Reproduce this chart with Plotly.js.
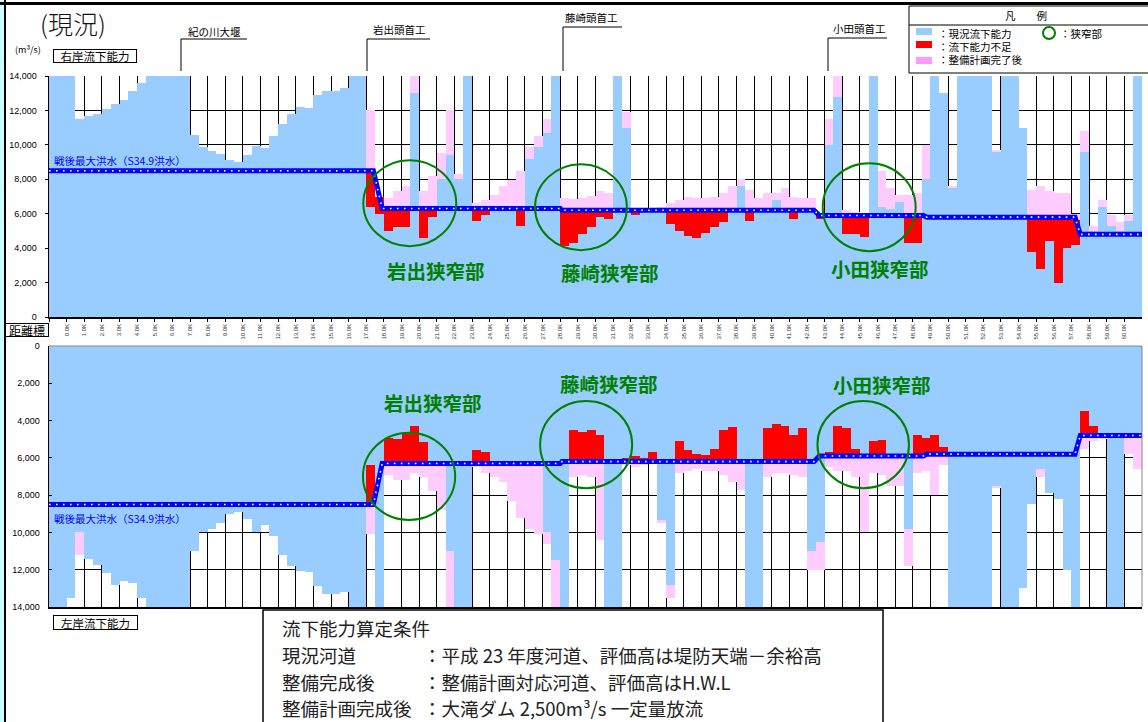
<!DOCTYPE html>
<html><head><meta charset="utf-8">
<script src="https://cdn.plot.ly/plotly-3.0.1.min.js"></script>
<style>html,body{margin:0;padding:0;background:#fff;overflow:hidden}#chart{width:1148px;height:722px}</style>
</head><body><div id="chart"></div>
<script>
// distance bins: 0.5 km each, starting at -1.0 km (values listed per 5 km)
const KM_START = -1.0, BIN = 0.5;

// right bank, current capacity (m3/s)
const R_CUR = [
 14000,14000,14000,11500,11650,11800,12100,12400,12600,13100,
 13600,14000,14000,14000,14000,14000,10600,9900,9650,9450,
 9100,9000,9400,9950,9800,10500,11200,11800,12200,12150,
 12900,13100,13100,13300,14000,14000,6400,6000,5000,5250,
 5250,13000,4600,5800,8000,9400,8000,14000,5600,5900,
 6300,6300,6300,5300,9200,9900,10700,14000,4100,4300,
 4850,5250,5800,5700,14000,11000,5900,6200,6100,6200,
 5400,5000,4700,4600,4900,5200,5500,6300,7600,5600,
 6300,6300,6800,6300,5700,6300,6300,5700,10000,12800,
 4850,4800,4650,14000,6400,6300,6700,4300,4300,8000,
 14000,13000,7500,14000,14000,14000,14000,9600,14000,14000,
 11000,3800,2800,4400,2000,4000,4200,9600,5000,6400,
 5300,5000,5600,14000];
// right bank, after plan completion
const R_POST = [
 0,0,0,0,0,0,0,0,0,0,
 0,0,0,0,0,0,0,0,0,0,
 0,0,0,0,0,0,0,0,0,0,
 0,0,0,0,0,0,12000,6500,6900,7300,
 7600,14000,7300,8200,9500,12000,8300,0,6600,6800,
 7100,7600,7950,8500,9900,10500,11500,0,6900,6850,
 6900,7050,7300,7200,0,11900,6300,6300,6300,6400,
 6600,6800,7000,6900,6900,7000,7200,7600,8000,7400,
 6900,7200,7200,7500,7000,6900,6900,6000,11500,14000,
 6200,6100,6000,0,8500,7500,7100,7100,7200,10000,
 0,0,7600,0,0,0,0,9700,0,0,
 0,7400,7600,7300,7200,7200,6000,10800,5300,6800,
 5900,5500,5900,0];
// left bank, current capacity
const L_CUR = [
 14000,14000,13500,10000,11420,11750,12150,12800,12600,12700,
 13500,14000,14000,14000,14000,14000,11000,9960,9830,9510,
 9000,8900,9300,10000,9600,10200,11200,11800,12050,12100,
 12900,13300,13300,13200,14000,14000,6400,14000,4950,5000,
 4700,4300,5150,6150,6300,11000,14000,14000,5600,5700,
 6300,6300,6300,6300,6300,6300,10000,11500,14000,4500,
 4600,4500,4800,14000,14000,6000,5900,6000,5700,9330,
 12800,5100,5600,5800,5850,5500,4500,4360,6200,14000,
 14000,4400,4200,4300,4780,4400,11000,10500,5700,4300,
 4400,5500,6000,5100,5040,5900,5900,9800,4800,4950,
 4800,5400,14000,14000,14000,14000,14000,7500,14000,14000,
 13000,8500,6600,7900,8200,12000,14000,3500,4300,4680,
 14000,14000,4800,4800];
// left bank, after plan completion
const L_POST = [
 0,0,0,11200,0,0,0,0,0,0,
 0,0,0,0,0,0,0,0,0,0,
 0,0,0,0,0,0,0,0,0,0,
 0,0,0,0,0,0,10100,0,6900,7200,
 7200,6830,7000,7800,8800,14000,0,0,6500,6800,
 7000,7300,8300,9200,9800,10100,10600,14000,0,7000,
 6900,7000,10400,0,0,6400,6500,6400,6300,9500,
 13500,6800,6700,6600,6700,6700,6900,7300,7700,0,
 0,7000,6800,6800,6900,7000,12000,12000,6500,6700,
 6700,7000,10000,6800,6900,7500,7500,11800,6800,6700,
 8000,6400,0,0,0,0,0,7600,0,0,
 0,0,7000,0,0,0,0,5500,5100,5000,
 0,0,5800,6600];
// design flood (post-war max flood S34.9) along the river
const DESIGN_KM = [-1, 17.4, 17.9, 28.0, 28.1, 42.4, 42.7, 48.6, 48.8, 57.2, 57.5, 61];
const DESIGN_Q  = [8500, 8500, 6300, 6300, 6200, 6200, 5900, 5900, 5800, 5800, 4800, 4800];
// distance tick labels (the first one is hidden under the 距離標 box in the original)
const TICK_KM = Array.from({length: 62}, (_, i) => i - 1);
const TICK_TXT = TICK_KM.map(k => k < 0 ? '' : k.toFixed(1) + 'K');
const Y_TICKS = [0, 2000, 4000, 6000, 8000, 10000, 12000, 14000];

const C_BLUE = '#99CCFF', C_PINK = '#FFCCFF', C_RED = '#FF0000', C_LINE = '#0000FF', C_GREEN = '#008000';
const JP = '"Noto Sans CJK JP", "Noto Sans", sans-serif';
const LAT = '"Liberation Sans", Arial, sans-serif';

const centers = R_CUR.map((_, i) => KM_START + BIN * (i + 0.5));
function designAt(k) {
  for (let i = 0; i < DESIGN_KM.length - 1; i++) {
    if (k >= DESIGN_KM[i] && k <= DESIGN_KM[i + 1]) {
      const t = (k - DESIGN_KM[i]) / (DESIGN_KM[i + 1] - DESIGN_KM[i]);
      return DESIGN_Q[i] + t * (DESIGN_Q[i + 1] - DESIGN_Q[i]);
    }
  }
  return DESIGN_Q[DESIGN_Q.length - 1];
}
function shortage(cur) { return centers.map((k, i) => Math.max(0, designAt(k) - cur[i])); }

function bars(y, color, xa, ya, base) {
  const t = {type: 'bar', x: centers, y: y, width: BIN, xaxis: xa, yaxis: ya,
    marker: {color: color, line: {width: 0}}, hoverinfo: 'skip'};
  if (base) t.base = base;
  return t;
}
function designLine(xa, ya) {
  return [
    {type: 'scatter', mode: 'lines', x: DESIGN_KM, y: DESIGN_Q, xaxis: xa, yaxis: ya,
     line: {color: C_LINE, width: 5}, hoverinfo: 'skip'},
    {type: 'scatter', mode: 'lines', x: DESIGN_KM, y: DESIGN_Q, xaxis: xa, yaxis: ya,
     line: {color: '#FFFFFF', width: 1.6, dash: '1.6px,5.4px'}, hoverinfo: 'skip'}
  ];
}

const traces = [
  bars(R_POST, C_PINK, 'x', 'y'),
  bars(R_CUR, C_BLUE, 'x', 'y'),
  bars(shortage(R_CUR), C_RED, 'x', 'y', R_CUR),
  ...designLine('x', 'y'),
  bars(L_POST, C_PINK, 'x2', 'y2'),
  bars(L_CUR, C_BLUE, 'x2', 'y2'),
  bars(shortage(L_CUR), C_RED, 'x2', 'y2', L_CUR),
  ...designLine('x2', 'y2')
];

// page pixel -> paper helpers (for decorations and text)
const PX = x => (x - 49) / 1093, PY = y => (607 - y) / 531;
function txt(t, x, y, o) {
  const a = {text: t, x: PX(x), y: PY(y), xref: 'paper', yref: 'paper', showarrow: false,
    xanchor: 'center', yanchor: 'middle', font: {family: JP, size: 10.5, color: '#000'}};
  return Object.assign(a, o || {});
}
function box(t, x, y, w, h, fs) {
  return txt(t, x, y, {width: w, height: h, bordercolor: '#000', borderwidth: 1, borderpad: 0,
    bgcolor: '#fff', font: {family: JP, size: fs, color: '#000'}});
}
function greenLabel(t, k, q, xa, ya) {
  return {text: '<b>' + t + '</b>', x: k, y: q, xref: xa, yref: ya, showarrow: false,
    font: {family: JP, size: 19.5, color: C_GREEN}};
}
const CT = {family: JP, size: 18.5, color: '#222'};
function cond(t, x, y) { return txt(t, x, y, {xanchor: 'left', font: CT}); }

const annotations = [
  txt('(現況)', 73, 23, {font: {family: JP, size: 25, color: '#111', weight: 300}}),
  txt('(m³/s)', 28, 50, {font: {family: JP, size: 9, color: '#000'}}),
  box('右岸流下能力', 95, 56, 82, 12, 11.5),
  box('距離標', 27, 330, 42, 12, 12),
  box('左岸流下能力', 95, 622, 83, 13, 11.5),
  txt('戦後最大洪水（S34.9洪水）', 52, 160, {xanchor: 'left', font: {family: JP, size: 10.5, color: C_LINE}}),
  txt('戦後最大洪水（S34.9洪水）', 52, 518, {xanchor: 'left', font: {family: JP, size: 10.5, color: C_LINE}}),
  txt('紀の川大堰', 214, 31),
  txt('岩出頭首工', 399, 30),
  txt('藤崎頭首工', 591, 18),
  txt('小田頭首工', 859, 29),
  txt('凡　　例', 1026, 16),
  txt('：現況流下能力', 936, 33, {xanchor: 'left'}),
  txt('：流下能力不足', 936, 46, {xanchor: 'left'}),
  txt('：整備計画完了後', 936, 60, {xanchor: 'left'}),
  txt('：狭窄部', 1058, 33, {xanchor: 'left'}),
  greenLabel('岩出狭窄部', 20.96, 2725, 'x', 'y'),
  greenLabel('藤崎狭窄部', 30.82, 2609, 'x', 'y'),
  greenLabel('小田狭窄部', 46.12, 2840, 'x', 'y'),
  greenLabel('岩出狭窄部', 20.79, 3057, 'x2', 'y2'),
  greenLabel('藤崎狭窄部', 30.77, 1985, 'x2', 'y2'),
  greenLabel('小田狭窄部', 46.23, 2040, 'x2', 'y2'),
  cond('流下能力算定条件', 280, 627.5),
  cond('現況河道', 280, 654.5),
  cond('：平成 23 年度河道、評価高は堤防天端－余裕高', 421, 654.5),
  cond('整備完成後', 280, 681.5),
  cond('：整備計画対応河道、評価高はH.W.L', 421, 681.5),
  cond('整備計画完成後', 280, 708.5),
  cond('：大滝ダム 2,500m³/s 一定量放流', 421, 708.5)
];

function pline(x0, y0, x1, y1, color, w) {
  return {type: 'line', xref: 'paper', yref: 'paper', x0: PX(x0), y0: PY(y0), x1: PX(x1), y1: PY(y1),
    line: {color: color, width: w}};
}
function prect(x0, y0, x1, y1, fill, lc, lw) {
  return {type: 'rect', xref: 'paper', yref: 'paper', x0: PX(x0), y0: PY(y0), x1: PX(x1), y1: PY(y1),
    fillcolor: fill, line: {color: lc, width: lw}};
}
function ring(k0, k1, q0, q1, xa, ya) {
  return {type: 'circle', xref: xa, yref: ya, x0: k0, x1: k1, y0: q0, y1: q1,
    line: {color: C_GREEN, width: 2}};
}
const shapes = [
  prect(0, 0, 4, 722, '#CCFFFF', '#CCFFFF', 0),
  pline(5, 0, 5, 722, '#000', 2),
  pline(0, 3.5, 1148, 3.5, '#000', 3),
  // weir / headworks brackets
  pline(181, 39, 181, 71, '#000', 1), pline(181, 39, 247, 39, '#000', 1),
  pline(367, 39, 367, 71, '#000', 1), pline(367, 39, 430, 39, '#000', 1),
  pline(563, 27, 563, 71, '#000', 1), pline(563, 27, 622, 27, '#000', 1),
  pline(828, 38, 828, 71, '#000', 1), pline(828, 38, 887, 38, '#000', 1),
  // legend
  prect(909, 6, 1152, 73, 'rgba(0,0,0,0)', '#000', 1),
  pline(909, 25, 1148, 25, '#000', 1),
  prect(916, 28, 932, 35, C_BLUE, C_BLUE, 0),
  prect(916, 41, 932, 48, C_RED, C_RED, 0),
  prect(916, 57, 932, 64, '#FF99FF', '#FF99FF', 0),
  {type: 'circle', xref: 'paper', yref: 'paper', x0: PX(1043), x1: PX(1055), y0: PY(39), y1: PY(27),
   line: {color: C_GREEN, width: 2}},
  // bottom panel frame (top and right)
  {type: 'line', xref: 'paper', yref: 'y2 domain', x0: 0, x1: 1, y0: 1, y1: 1, line: {color: '#888', width: 1}},
  {type: 'line', xref: 'paper', yref: 'y2 domain', x0: 1, x1: 1, y0: 0, y1: 1, line: {color: '#888', width: 1}},
  // narrow-section rings
  ring(16.83, 22.10, 4116, 9101, 'x', 'y'),
  ring(26.57, 31.78, 3884, 8870, 'x', 'y'),
  ring(42.89, 48.16, 3826, 8927, 'x', 'y'),
  ring(16.81, 22.04, 4650, 9333, 'x2', 'y2'),
  ring(26.86, 32.08, 2950, 7634, 'x2', 'y2'),
  ring(42.59, 47.78, 2950, 7634, 'x2', 'y2'),
  // condition box
  prect(263, 610, 883, 726, 'rgba(0,0,0,0)', '#000', 1.5)
];

const xCommon = {range: [-1, 61], showgrid: true, gridcolor: '#000', gridwidth: 1, zeroline: false,
  tickvals: TICK_KM, showline: true, linecolor: '#000', linewidth: 1.5, fixedrange: true};
const yCommon = {tickvals: Y_TICKS, tickformat: ',d', showgrid: true, gridcolor: '#000', gridwidth: 1,
  zeroline: false, showline: true, linecolor: '#000', linewidth: 1.5, tickcolor: '#000', ticklen: 3,
  tickfont: {family: LAT, size: 9, color: '#000'}, ticklabelstandoff: 6, fixedrange: true};

const layout = {
  width: 1148, height: 722,
  margin: {l: 49, r: 6, t: 76, b: 115, pad: 0},
  paper_bgcolor: '#fff', plot_bgcolor: '#fff',
  showlegend: false, barmode: 'overlay', bargap: 0, hovermode: false,
  xaxis: Object.assign({}, xCommon, {anchor: 'y', ticktext: TICK_TXT, tickangle: -90, ticks: 'outside',
    ticklen: 3, tickcolor: '#000', tickfont: {family: LAT, size: 6, color: '#333'}}),
  yaxis: Object.assign({}, yCommon, {domain: [(607 - 317) / 531, 1], anchor: 'x', range: [0, 14000], ticks: 'outside'}),
  xaxis2: Object.assign({}, xCommon, {anchor: 'y2', showticklabels: false, ticks: ''}),
  yaxis2: Object.assign({}, yCommon, {domain: [0, (607 - 346) / 531], anchor: 'x2', range: [14000, 0], ticks: 'inside'}),
  annotations: annotations,
  shapes: shapes
};

Plotly.newPlot('chart', traces, layout, {staticPlot: true, displayModeBar: false});
</script></body></html>
